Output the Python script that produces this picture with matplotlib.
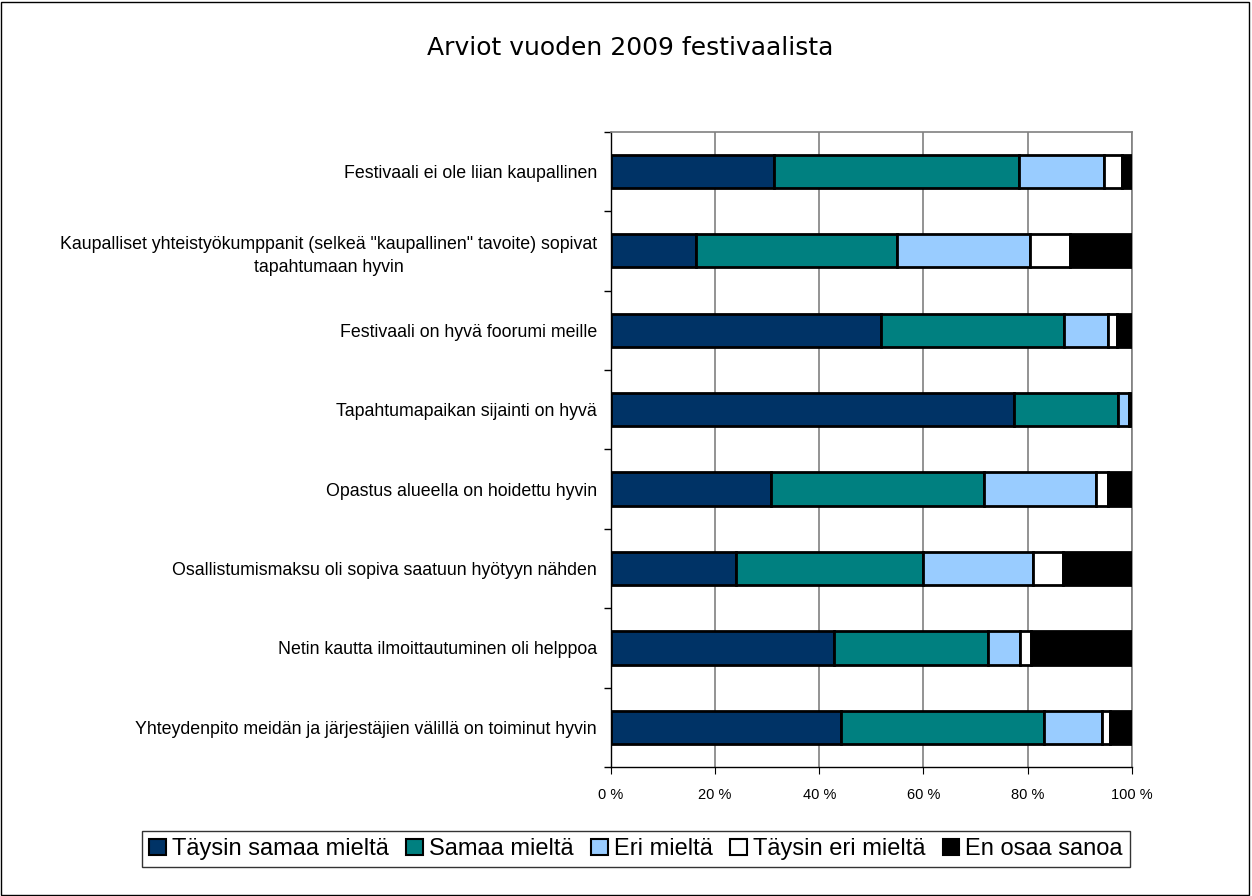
import numpy as np
import matplotlib
matplotlib.use("Agg")
import matplotlib.pyplot as plt
from matplotlib.patches import Rectangle, Patch

# statements, top to bottom as shown
statements = [
    "Festivaali ei ole liian kaupallinen",
    "Kaupalliset yhteistyökumppanit (selkeä \"kaupallinen\" tavoite) sopivat\ntapahtumaan hyvin",
    "Festivaali on hyvä foorumi meille",
    "Tapahtumapaikan sijainti on hyvä",
    "Opastus alueella on hoidettu hyvin",
    "Osallistumismaksu oli sopiva saatuun hyötyyn nähden",
    "Netin kautta ilmoittautuminen oli helppoa",
    "Yhteydenpito meidän ja järjestäjien välillä on toiminut hyvin",
]
series_names = ["Täysin samaa mieltä", "Samaa mieltä", "Eri mieltä",
                "Täysin eri mieltä", "En osaa sanoa"]

# shares in %, one list per answer option (same order as statements)
taysin_samaa = [31.3, 16.3, 51.8, 77.3, 30.7, 24.1, 42.9, 44.1]
samaa = [47.0, 38.6, 35.2, 20.0, 40.9, 35.9, 29.4, 39.1]
eri = [16.3, 25.6, 8.5, 2.2, 21.6, 21.0, 6.3, 11.0]
taysin_eri = [3.5, 7.7, 1.6, 0.0, 2.2, 5.7, 2.0, 1.6]
en_osaa = [1.9, 11.8, 2.9, 0.5, 4.6, 13.3, 19.4, 4.2]

colors = ["#003366", "#008080", "#99CCFF", "#FFFFFF", "#000000"]

fig = plt.figure(figsize=(12.52, 8.96), dpi=100)
ax = fig.add_axes([0.488, 0.144, 0.416, 0.709])

data = [taysin_samaa, samaa, eri, taysin_eri, en_osaa]
n = len(statements)
y = np.arange(n)[::-1]
left = np.zeros(n)
for vals, col in zip(data, colors):
    vals = np.array(vals)
    ax.barh(y, vals, left=left, height=0.42, color=col,
            edgecolor="black", linewidth=2, zorder=3)
    left += vals

ax.set_xlim(0, 100)
ax.set_ylim(-0.5, n - 0.5)
ax.set_xticks(np.arange(0, 101, 20))
ax.set_xticklabels([f"{v} %" for v in range(0, 101, 20)],
                   fontsize=10.5, family="Liberation Sans")
ax.set_yticks(y)
ax.set_yticklabels(statements, fontsize=12.8, family="Liberation Sans",
                   multialignment="center", linespacing=1.45)
ax.set_yticks(np.arange(-0.5, n, 1), minor=True)
ax.tick_params(axis="y", which="major", length=0, pad=10)
ax.tick_params(axis="y", which="minor", length=5, direction="out", width=1)
ax.tick_params(axis="x", length=5, direction="out", pad=10)
ax.grid(axis="x", color="#808080", linewidth=1.2, zorder=0)

for side in ["top", "right"]:
    ax.spines[side].set_color("#808080")
    ax.spines[side].set_linewidth(1.2)
for side in ["left", "bottom"]:
    ax.spines[side].set_color("black")
    ax.spines[side].set_linewidth(1)

fig.text(0.503, 0.946, "Arviot vuoden 2009 festivaalista", ha="center",
         va="center", fontsize=18, family="DejaVu Sans")

handles = [Patch(facecolor=c, edgecolor="black", linewidth=1.5) for c in colors]
leg = fig.legend(handles, series_names, loc="center", bbox_to_anchor=(0.508, 0.052),
                 ncol=5, frameon=True, fancybox=False, edgecolor="black",
                 prop={"family": "Liberation Sans", "size": 17},
                 handlelength=0.7, handleheight=0.7, handletextpad=0.25,
                 columnspacing=0.75, borderpad=0.3, borderaxespad=0)
leg.get_frame().set_linewidth(1)

fig.patches.append(Rectangle((0.001, 0.001), 0.997, 0.997, transform=fig.transFigure,
                             fill=False, edgecolor="black", linewidth=1))

fig.savefig("out.png", dpi=100)
